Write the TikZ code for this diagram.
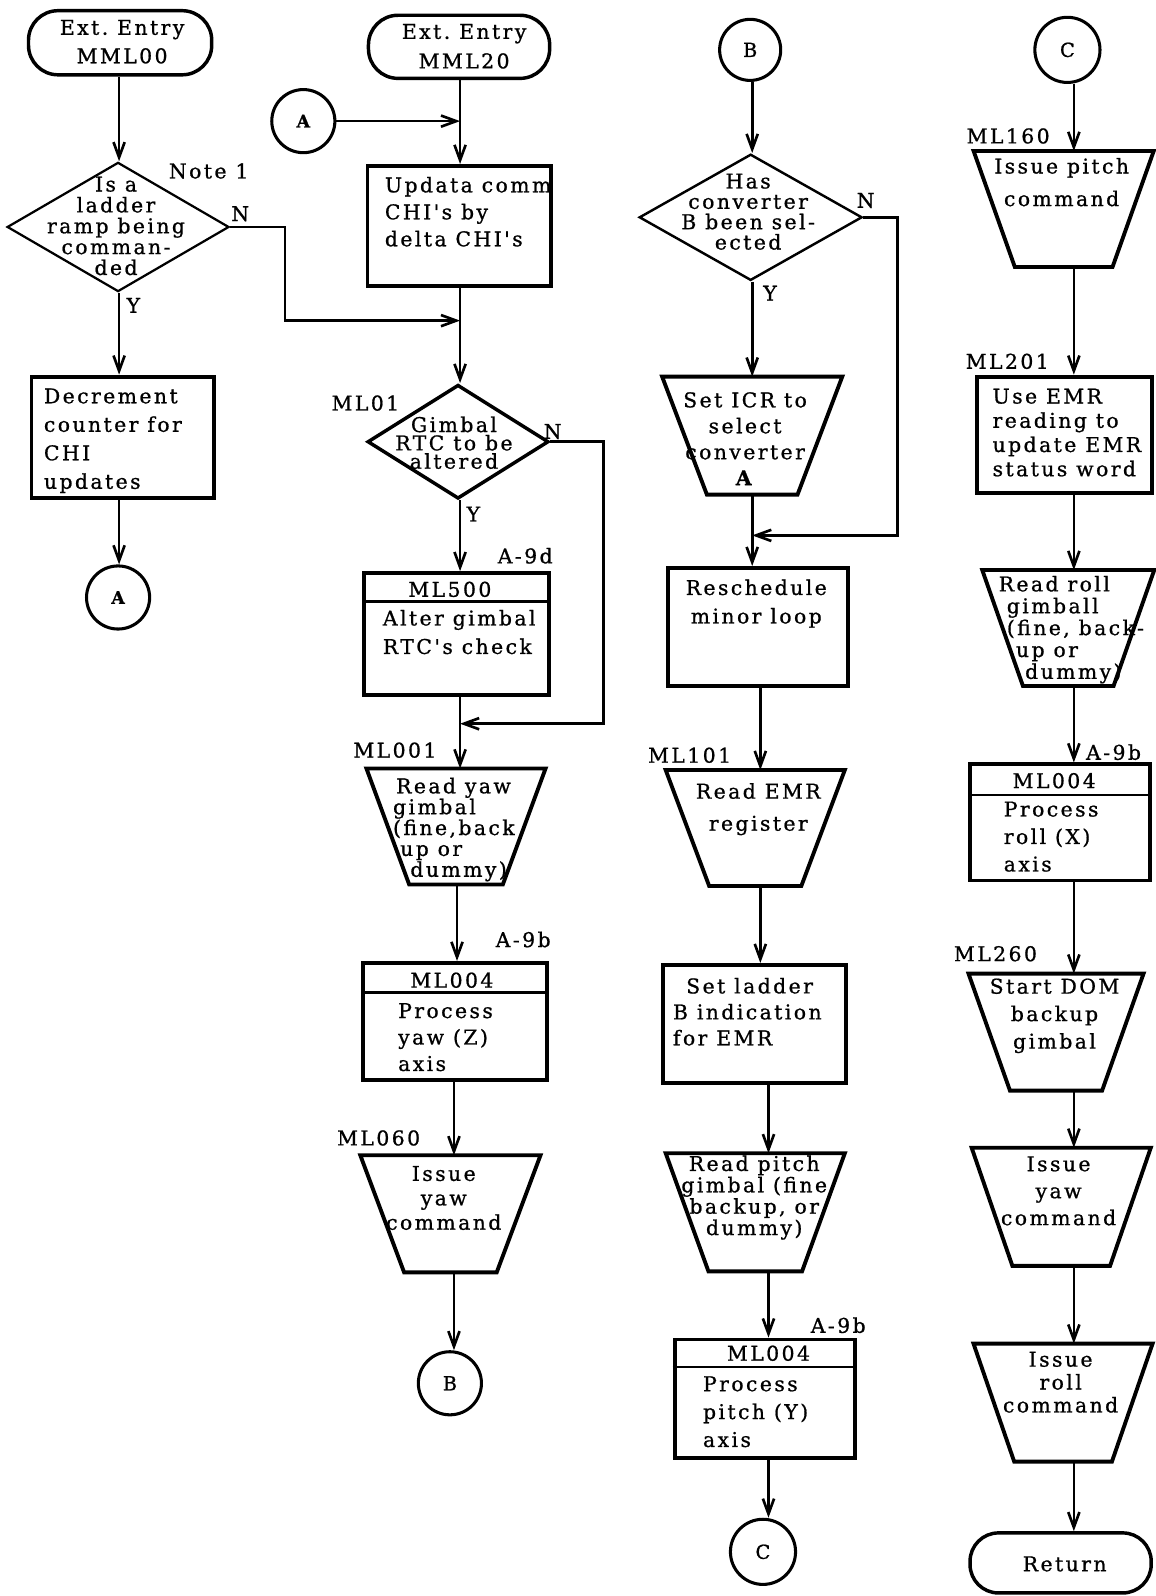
\documentclass[tikz,border=0pt]{standalone}
\usepackage{fontspec}
\usetikzlibrary{arrows.meta,shapes.geometric,calc}
\newfontfamily\dvfont[LetterSpace=12,FakeBold=0.9]{DejaVu Serif}
\newcommand\mytrap[6]{%
  \node[inner sep=0pt, outer sep=0pt, minimum width=#4pt, minimum height=#6pt, anchor=north] (#1) at (#2,#3) {};
  \pgfmathsetmacro\tzin{(#4-#5)/2}
  \draw[tzline] (#1.north west) -- (#1.north east) -- ([xshift=-\tzin pt]#1.south east) -- ([xshift=\tzin pt]#1.south west) -- cycle;
}
\begin{document}
\begin{tikzpicture}[x=1pt,y=-1pt,
  box/.style={draw, rectangle, line width=3.8pt, inner sep=0pt},
  term/.style={draw, rectangle, line width=3.4pt, inner sep=0pt},
  conn/.style={draw, circle, line width=3pt, inner sep=0pt, minimum size=62pt, font={\dvfont\fontsize{19}{20}\selectfont}},
  dia/.style={draw, diamond, inner sep=0pt},
  tzline/.style={line width=3.8pt, line join=miter},
  divl/.style={line width=2.6pt},
  txt/.style={inner sep=0pt, align=center, font={\dvfont\fontsize{20}{#1}\selectfont}},
  txt/.default=21,
  txtl/.style={txt=#1, align=left, anchor=west},
  txtl/.default=21,
  lab/.style={inner sep=0pt, font={\dvfont\fontsize{20}{21}\selectfont}},
  arr/.style={line width=2.6pt, -{Straight Barb[length=15pt,width=11pt]}}
]
\fill[white] (0,0) rectangle (1135,1568);
\useasboundingbox (0,0) rectangle (1135,1568);
\coordinate (x1) at (117,0);
\coordinate (x2) at (452,0);
\coordinate (x2m) at (449,0);
\coordinate (x2b) at (446,0);
\coordinate (x3a) at (739,0);
\coordinate (x3b) at (747,0);
\coordinate (x3c) at (755,0);
\coordinate (x4) at (1055,0);

% ---------------- column 1
\node[term, rounded corners=29pt, minimum width=180pt, minimum height=63pt] (t1) at (118,42) {};
\node[txt=28] (t1t) at (120,41) {Ext.\ Entry\\MML00};
\node[dia, line width=2.2pt, minimum width=218pt, minimum height=127pt] (d1) at (116,223) {};
\node[txt=20.5] (d1t) at (114,222) {Is a\\ladder\\ramp being\\comman-\\ded};
\node[lab] (note) at (205,168) {Note 1};
\node[lab] (n1) at (236,210) {N};
\node[lab] (y1) at (131,300) {Y};
\node[box, minimum width=179pt, minimum height=119pt] (dec) at (120.5,429.5) {};
\node[txtl=28] (dect) at (43,433) {Decrement\\counter for\\CHI\\updates};
\node[conn, font={\dvfont\fontsize{17}{18}\selectfont\bfseries}] (a1) at (116,587) {A};

\draw[arr] (t1.south -| x1) -- (d1.north -| x1);
\draw[arr] (d1.south -| x1) -- (dec.north -| x1);
\draw[arr] (dec.south -| x1) -- (a1.north -| x1);
\coordinate (j1) at (280,315);
\draw[arr] (d1.east) -| (j1) -- (j1 -| x2);

% ---------------- column 2
\node[term, rounded corners=29pt, minimum width=178pt, minimum height=62pt] (t2) at (451,46) {};
\node[txt=29] (t2t) at (456,45.5) {Ext.\ Entry\\MML20};
\node[conn, font={\dvfont\fontsize{17}{18}\selectfont\bfseries}] (a2) at (298,119) {A};
\node[box, minimum width=180pt, minimum height=118pt] (upd) at (451,222) {};
\node[txtl=26.5] (updt) at (378,208) {Updata comm\\CHI's by\\delta CHI's};
\node[dia, line width=3.4pt, minimum width=178pt, minimum height=112pt] (d2) at (450,434) {};
\node[txt=18] (d2t) at (446,435) {Gimbal\\RTC to be\\altered};
\node[lab] (l01) at (359,396) {ML01};
\node[lab] (n2) at (543,424) {N};
\node[lab] (y2) at (465,505) {Y};
\node[lab] (a9d) at (516,546) {A-9d};
\node[box, minimum width=181pt, minimum height=120pt] (m500) at (448.5,623) {};
\draw[divl] ([yshift=-30pt]m500.north west) -- ([yshift=-30pt]m500.north east);
\node[txt] (m500h) at (442,579) {ML500};
\node[txtl=28] (m500t) at (376,621) {Alter gimbal\\RTC's check};
\node[lab] (l001) at (388,737) {ML001};
\mytrap{tyaw}{448}{755}{176}{92}{114}
\node[txtl=20.5] (tyawt) at (386,815) {\hspace*{3pt}Read yaw\\gimbal\\(fine,back\\\hspace*{7pt}up or\\\hspace*{17pt}dummy)};
\node[lab] (a9b1) at (514,923) {A-9b};
\node[box, minimum width=180pt, minimum height=115pt] (m4a) at (447,1003.5) {};
\draw[divl] ([yshift=-31pt]m4a.north west) -- ([yshift=-31pt]m4a.north east);
\node[txt] (m4ah) at (444,963) {ML004};
\node[txtl=26] (m4at) at (391,1019) {Process\\yaw (Z)\\axis};
\node[lab] (l060) at (372,1118) {ML060};
\mytrap{tiy1}{442.5}{1135}{177}{91}{115}
\node[txt=24] (tiy1t) at (436,1177) {Issue\\yaw\\command};
\node[conn] (b1) at (442,1359) {B};

\draw[arr] (t2.south -| x2) -- (upd.north -| x2);
\draw[arr] (a2.east) -- (a2.east -| x2);
\draw[arr] (upd.south -| x2) -- (d2.north -| x2);
\draw[arr] (d2.south -| x2) -- (m500.north -| x2);
\coordinate (j3) at (593,711);
\draw[arr] (d2.east) -| (j3) -- (j3 -| x2);
\draw[arr] (m500.south -| x2) -- (tyaw.north -| x2);
\draw[arr] (tyaw.south -| x2m) -- (m4a.north -| x2m);
\draw[arr] (m4a.south -| x2b) -- (tiy1.north -| x2b);
\draw[arr] (tiy1.south -| x2b) -- (b1.north -| x2b);

% ---------------- column 3
\node[conn, minimum size=60pt] (b2) at (737,49) {B};
\node[dia, line width=2.4pt, minimum width=219pt, minimum height=124pt] (d3) at (737.5,213.5) {};
\node[txt=20] (d3t) at (735,208) {Has\\converter\\B been sel-\\ected};
\node[lab] (n3) at (850.5,197) {N};
\node[lab] (y3) at (756.5,288) {Y};
\mytrap{sicr}{739}{370}{177}{89}{116}
\node[txt=25.5] (sicrt) at (732,431) {Set ICR to\\select\\converter\\\textbf{A}};
\node[box, minimum width=177pt, minimum height=116pt] (resch) at (744.4,616) {};
\node[txt=28] (rescht) at (743,593) {Reschedule\\minor loop};
\node[lab] (l101) at (677.5,742) {ML101};
\mytrap{remr}{742}{756.5}{176}{90.5}{114}
\node[txt=31.5] (remrt) at (745,795) {Read EMR\\register};
\node[box, minimum width=180pt, minimum height=116pt] (slad) at (741,1006) {};
\node[txtl=25.5] (sladt) at (661,994) {\hspace*{13pt}Set ladder\\B indication\\for EMR};
\mytrap{rpit}{742}{1133}{176}{92}{116}
\node[txt=21] (rpitt) at (741,1176.5) {Read pitch\\gimbal (fine\\backup, or\\dummy)};
\node[lab] (a9b2) at (823.5,1302) {A-9b};
\node[box, minimum width=177pt, minimum height=116pt] (m4b) at (751.3,1374) {};
\draw[divl] ([yshift=-29pt]m4b.north west) -- ([yshift=-29pt]m4b.north east);
\node[txt] (m4bh) at (755,1329.5) {ML004};
\node[txtl=27.4] (m4bt) at (690.5,1387) {Process\\pitch (Y)\\axis};
\node[conn, minimum size=64pt] (c1) at (749.6,1524.6) {C};

\draw[arr] (b2.south -| x3a) -- (d3.north -| x3a);
\draw[arr] (d3.south -| x3a) -- (sicr.north -| x3a);
\draw[arr] (sicr.south -| x3a) -- (resch.north -| x3a);
\coordinate (j4) at (882,526);
\draw[arr] (d3.east) -| (j4) -- (j4 -| x3a);
\draw[arr] (resch.south -| x3b) -- (remr.north -| x3b);
\draw[arr] (remr.south -| x3b) -- (slad.north -| x3b);
\draw[arr] (slad.south -| x3c) -- (rpit.north -| x3c);
\draw[arr] (rpit.south -| x3c) -- (m4b.north -| x3c);
\draw[arr] (m4b.south -| x3c) -- (c1.north -| x3c);

% ---------------- column 4
\node[conn, minimum size=64pt] (c2) at (1048.7,49) {C};
\node[lab] (l160) at (990.5,133.6) {ML160};
\mytrap{ipit}{1045}{148.3}{177}{96}{114}
\node[txt=32] (ipitt) at (1043,179) {Issue pitch\\command};
\node[lab] (l201) at (989.6,355) {ML201};
\node[box, minimum width=172pt, minimum height=114pt] (uemr) at (1046,427) {};
\node[txtl=23.8] (uemrt) at (975,425) {Use EMR\\reading to\\update EMR\\status word};
\mytrap{rrol}{1049.5}{560}{169}{89}{114}
\node[txtl=21.5] (rrolt) at (981,618.6) {Read roll\\\hspace*{8pt}gimball\\\hspace*{8pt}(fine, back-\\\hspace*{17pt}up or\\\hspace*{26pt}dummy)};
\node[lab] (a9b3) at (1094,739) {A-9b};
\node[box, minimum width=177pt, minimum height=114pt] (m4c) at (1041.7,808) {};
\draw[divl] ([yshift=-32pt]m4c.north west) -- ([yshift=-32pt]m4c.north east);
\node[txt] (m4ch) at (1035.7,767) {ML004};
\node[txtl=27] (m4ct) at (986,822) {Process\\roll (X)\\axis};
\node[lab] (l260) at (978,937) {ML260};
\mytrap{sdom}{1037.5}{956.5}{172}{90.5}{115}
\node[txt=27] (sdomt) at (1036,998) {Start DOM\\backup\\gimbal};
\mytrap{iyaw}{1042.6}{1127.6}{176}{96}{116}
\node[txt=26.5] (iyawt) at (1040,1170) {Issue\\yaw\\command};
\mytrap{irol}{1044.4}{1320}{176}{96}{116}
\node[txt=22.5] (irolt) at (1042,1358) {Issue\\roll\\command};
\node[term, rounded corners=28pt, minimum width=178pt, minimum height=59pt] (ret) at (1042,1535.5) {};
\node[txt] (rett) at (1046,1536.5) {Return};

\draw[arr] (c2.south -| x4) -- (ipit.north -| x4);
\draw[arr] (ipit.south -| x4) -- (uemr.north -| x4);
\draw[arr] (uemr.south -| x4) -- (rrol.north -| x4);
\draw[arr] (rrol.south -| x4) -- (m4c.north -| x4);
\draw[arr] (m4c.south -| x4) -- (sdom.north -| x4);
\draw[arr] (sdom.south -| x4) -- (iyaw.north -| x4);
\draw[arr] (iyaw.south -| x4) -- (irol.north -| x4);
\draw[arr] (irol.south -| x4) -- (ret.north -| x4);
\end{tikzpicture}
\end{document}
